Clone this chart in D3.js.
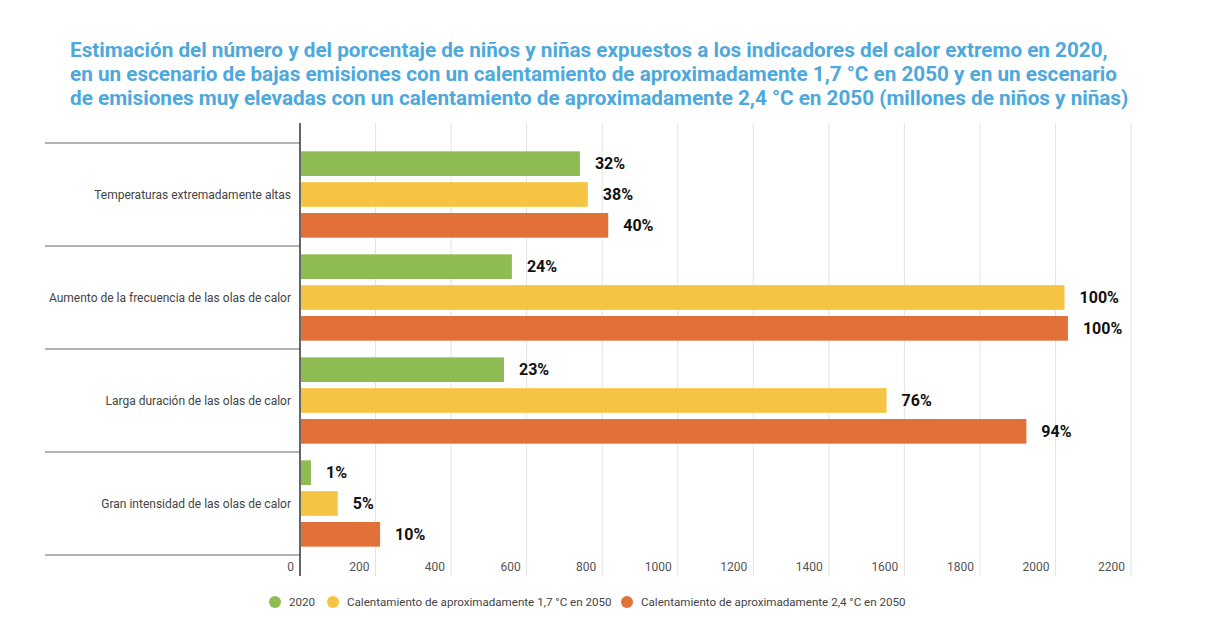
<!DOCTYPE html>
<html><head><meta charset="utf-8">
<script src="https://cdn.jsdelivr.net/npm/d3@7"></script>
<style>
body{margin:0;background:#fff;}
svg text{font-family:Roboto,"Noto Sans",sans-serif;}
</style></head>
<body><svg id="c" width="1206" height="629"></svg>
<script>
const categories = ["Temperaturas extremadamente altas","Aumento de la frecuencia de las olas de calor","Larga duración de las olas de calor","Gran intensidad de las olas de calor"];
const seriesNames = ["2020","Calentamiento de aproximadamente 1,7 °C en 2050","Calentamiento de aproximadamente 2,4 °C en 2050"];
const values2020 = [741, 561, 540, 29];
const values17 = [762, 2024, 1553, 100];
const values24 = [816, 2033, 1923, 212];
const pct2020 = ["32%","24%","23%","1%"];
const pct17 = ["38%","100%","76%","5%"];
const pct24 = ["40%","100%","94%","10%"];
const xTicks = [0,200,400,600,800,1000,1200,1400,1600,1800,2000,2200];
const colors = ["#8fbc52","#f5c443","#e17139"];
const titleLines = ["Estimación del número y del porcentaje de niños y niñas expuestos a los indicadores del calor extremo en 2020,","en un escenario de bajas emisiones con un calentamiento de aproximadamente 1,7 °C en 2050 y en un escenario","de emisiones muy elevadas con un calentamiento de aproximadamente 2,4 °C en 2050 (millones de niños y niñas)"];

const seriesVals = [values2020, values17, values24];
const seriesPct = [pct2020, pct17, pct24];

const svg = d3.select("#c");
const x = d3.scaleLinear().domain([0,2200]).range([300,1131]);
const y = d3.scaleBand().domain(categories).range([143,555]).paddingInner(0).paddingOuter(0);
const y1 = d3.scaleBand().domain(d3.range(3)).range([0,y.bandwidth()]).paddingInner(0.2).paddingOuter(0.27);

// title
svg.append("g").selectAll("text").data(titleLines).join("text")
  .attr("x",70).attr("y",(d,i)=>57+i*24)
  .attr("fill","#4ea8dc").attr("font-size",20.7).attr("font-weight","bold")
  .text(d=>d);

// gridlines
svg.append("g").selectAll("line").data(xTicks.slice(1)).join("line")
  .attr("x1",d=>x(d)).attr("x2",d=>x(d)).attr("y1",123).attr("y2",576)
  .attr("stroke","#e3e3e3").attr("stroke-width",1);

// tick labels
svg.append("g").selectAll("text").data(xTicks).join("text")
  .attr("x",d=>x(d)-6).attr("y",571).attr("text-anchor","end")
  .attr("fill","#555").attr("font-size",12).text(d=>d);

// category separators
const seps = categories.map(c=>y(c)).concat([y.range()[1]]);
svg.append("g").selectAll("line").data(seps).join("line")
  .attr("x1",45).attr("x2",300).attr("y1",d=>d).attr("y2",d=>d)
  .attr("stroke","#666").attr("stroke-width",1);

// category labels
svg.append("g").selectAll("text").data(categories).join("text")
  .attr("x",291).attr("y",d=>y(d)+y.bandwidth()/2).attr("dy","0.35em")
  .attr("text-anchor","end").attr("fill","#444").attr("font-size",12).text(d=>d);

// bars
const g = svg.append("g");
seriesVals.forEach((vals,s)=>{
  g.append("g").selectAll("rect").data(vals).join("rect")
    .attr("x",x(0)+1).attr("y",(d,i)=>y(categories[i])+y1(s))
    .attr("width",d=>x(d)-x(0)-1).attr("height",y1.bandwidth())
    .attr("fill",colors[s]);
  g.append("g").selectAll("text").data(vals).join("text")
    .attr("x",d=>x(d)+15).attr("y",(d,i)=>y(categories[i])+y1(s)+y1.bandwidth()/2).attr("dy","0.36em")
    .attr("font-size",16).attr("font-weight","bold").attr("fill","#111")
    .text((d,i)=>seriesPct[s][i]);
});

// axis line
svg.append("line").attr("x1",x(0)).attr("x2",x(0)).attr("y1",123).attr("y2",576)
  .attr("stroke","#333").attr("stroke-width",1.5);

// legend
const legX = [275,333,627];
const lg = svg.append("g");
seriesNames.forEach((n,i)=>{
  lg.append("circle").attr("cx",legX[i]).attr("cy",602).attr("r",6).attr("fill",colors[i]);
  lg.append("text").attr("x",legX[i]+14).attr("y",602).attr("dy","0.35em")
    .attr("font-size",11.6).attr("fill","#444").text(n);
});
</script></body></html>
